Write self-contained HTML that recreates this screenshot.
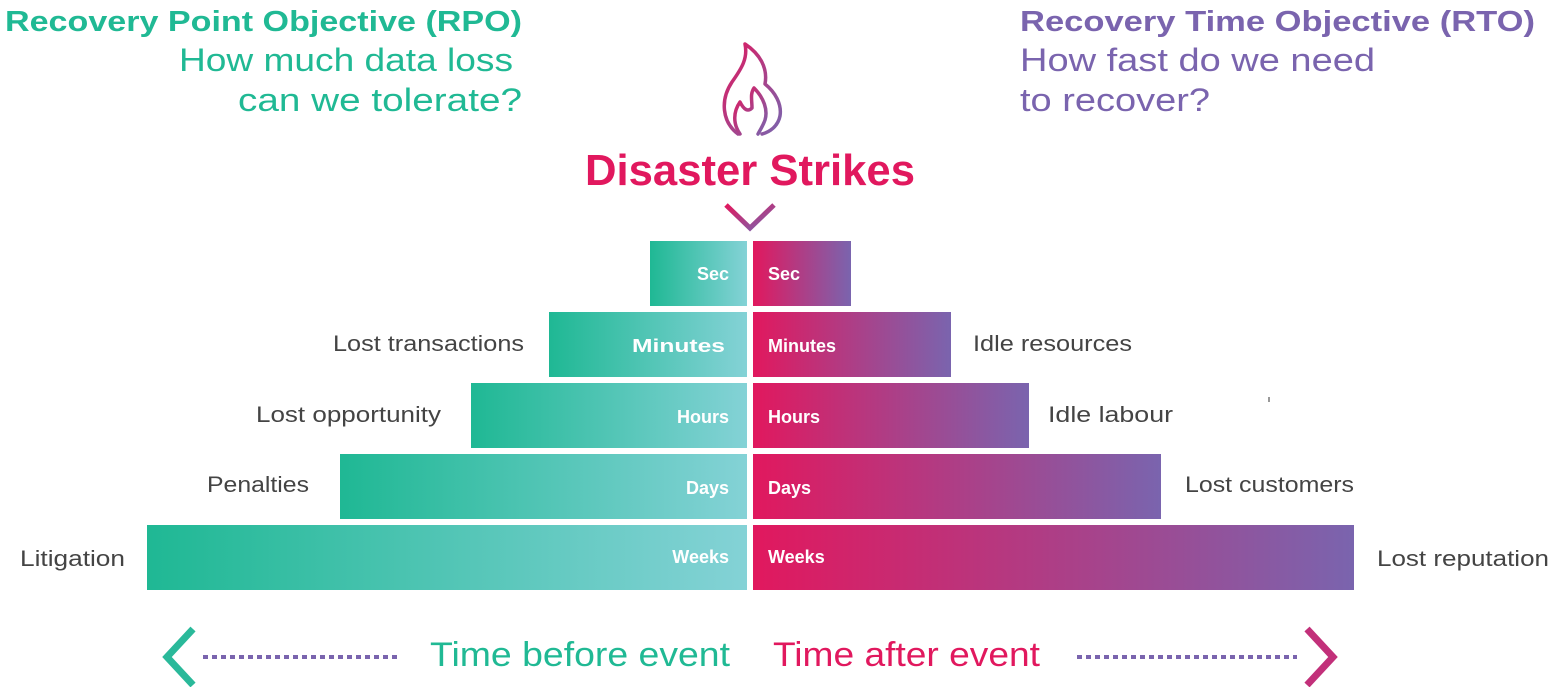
<!DOCTYPE html>
<html><head><meta charset="utf-8"><style>html,body{margin:0;padding:0;background:#fff}svg{display:block}</style></head><body>
<svg width="1550" height="687" viewBox="0 0 1550 687" xmlns="http://www.w3.org/2000/svg" font-family="Liberation Sans, sans-serif">
<defs>
<linearGradient id="gl" x1="0" x2="1"><stop offset="0" stop-color="#1fb894"/><stop offset="1" stop-color="#84d2d6"/></linearGradient>
<linearGradient id="gr" x1="0" x2="1"><stop offset="0" stop-color="#e1185e"/><stop offset="1" stop-color="#7a64ae"/></linearGradient>
<linearGradient id="gf" x1="0" y1="0" x2="1" y2="1"><stop offset="0" stop-color="#e1185e"/><stop offset="1" stop-color="#7a64ae"/></linearGradient>
</defs>
<text x="5" y="31" font-size="29" font-weight="bold" fill="#20b994" textLength="517" lengthAdjust="spacingAndGlyphs">Recovery Point Objective (RPO)</text>
<text x="179" y="71" font-size="32" fill="#20b994" textLength="334" lengthAdjust="spacingAndGlyphs">How much data loss</text>
<text x="238" y="111" font-size="32" fill="#20b994" textLength="284" lengthAdjust="spacingAndGlyphs">can we tolerate?</text>
<text x="1020" y="31" font-size="29" font-weight="bold" fill="#7a64ae" textLength="515" lengthAdjust="spacingAndGlyphs">Recovery Time Objective (RTO)</text>
<text x="1020" y="71" font-size="32" fill="#7a64ae" textLength="355" lengthAdjust="spacingAndGlyphs">How fast do we need</text>
<text x="1020" y="111" font-size="32" fill="#7a64ae" textLength="190" lengthAdjust="spacingAndGlyphs">to recover?</text>
<!-- flame -->
<g fill="none" stroke="url(#gf)" stroke-width="3.5" stroke-linejoin="round" stroke-linecap="round">
<path d="M738 134 C722 122 720 100 732 82 C742 68 748 58 745 44 C760 54 768 68 765 84 C775 92 782 104 780 116 C778 126 770 132 762 134"/>
<path d="M740 134 C733 124 733 112 740 102 C744 110 748 112 752 108 C752 100 750 94 754 88 C764 98 768 110 765 120 C763 126 760 130 758 134"/>
</g>
<text x="750" y="185" font-size="44" font-weight="bold" fill="#e1185e" text-anchor="middle" textLength="330" lengthAdjust="spacingAndGlyphs">Disaster Strikes</text>
<polyline points="726,205 750,228 774,205" fill="none" stroke="url(#gf)" stroke-width="5"/>
<!-- bars -->
<g font-size="18" font-weight="bold" fill="#fff">
<rect x="650" y="241" width="97" height="65" fill="url(#gl)"/><rect x="753" y="241" width="98" height="65" fill="url(#gr)"/>
<rect x="549" y="312" width="198" height="65" fill="url(#gl)"/><rect x="753" y="312" width="198" height="65" fill="url(#gr)"/>
<rect x="471" y="383" width="276" height="65" fill="url(#gl)"/><rect x="753" y="383" width="276" height="65" fill="url(#gr)"/>
<rect x="340" y="454" width="407" height="65" fill="url(#gl)"/><rect x="753" y="454" width="408" height="65" fill="url(#gr)"/>
<rect x="147" y="525" width="600" height="65" fill="url(#gl)"/><rect x="753" y="525" width="601" height="65" fill="url(#gr)"/>
<text x="729" y="280" text-anchor="end">Sec</text><text x="768" y="280">Sec</text>
<text x="632" y="352" textLength="93" lengthAdjust="spacingAndGlyphs">Minutes</text><text x="768" y="352">Minutes</text>
<text x="729" y="423" text-anchor="end">Hours</text><text x="768" y="423">Hours</text>
<text x="729" y="494" text-anchor="end">Days</text><text x="768" y="494">Days</text>
<text x="729" y="563" text-anchor="end">Weeks</text><text x="768" y="563">Weeks</text>
</g>
<g font-size="22" fill="#444" lengthAdjust="spacingAndGlyphs">
<text x="333" y="351" textLength="191" lengthAdjust="spacingAndGlyphs">Lost transactions</text>
<text x="256" y="422" textLength="185" lengthAdjust="spacingAndGlyphs">Lost opportunity</text>
<text x="207" y="492" textLength="102" lengthAdjust="spacingAndGlyphs">Penalties</text>
<text x="20" y="566" textLength="105" lengthAdjust="spacingAndGlyphs">Litigation</text>
<text x="973" y="351" textLength="159" lengthAdjust="spacingAndGlyphs">Idle resources</text>
<text x="1048" y="422" textLength="125" lengthAdjust="spacingAndGlyphs">Idle labour</text>
<text x="1185" y="492" textLength="169" lengthAdjust="spacingAndGlyphs">Lost customers</text>
<text x="1377" y="566" textLength="172" lengthAdjust="spacingAndGlyphs">Lost reputation</text>
</g>
<rect x="1268" y="397" width="2" height="5" fill="#999"/>
<!-- bottom -->
<text x="430" y="666" font-size="34" fill="#20b994" textLength="300" lengthAdjust="spacingAndGlyphs">Time before event</text>
<text x="773" y="666" font-size="34" fill="#e1185e" textLength="267" lengthAdjust="spacingAndGlyphs">Time after event</text>
<line x1="203" y1="657" x2="397" y2="657" stroke="#7a64ae" stroke-width="4" stroke-dasharray="5,4"/>
<line x1="1077" y1="657" x2="1297" y2="657" stroke="#7a64ae" stroke-width="4" stroke-dasharray="5,4"/>
<polyline points="193,629 167,657 193,685" fill="none" stroke="#2ab99a" stroke-width="7"/>
<polyline points="1307,629 1333,657 1307,685" fill="none" stroke="#c2307a" stroke-width="7"/>
</svg>
</body></html>
